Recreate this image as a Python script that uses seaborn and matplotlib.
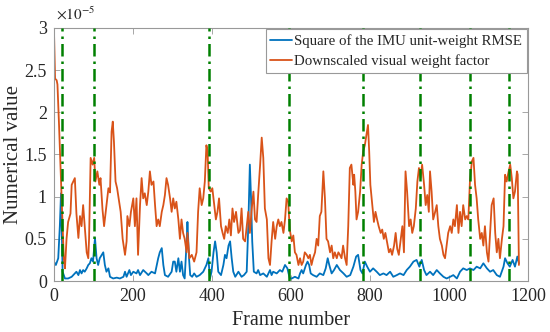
import numpy as np
import pandas as pd
import matplotlib
matplotlib.use("Agg")
import matplotlib.pyplot as plt
from matplotlib.ticker import FuncFormatter
import seaborn as sns

# values, in units of 1e-5
orange_frames = [0, 3, 7, 9, 13, 19, 25, 28, 32, 36, 42, 45, 49, 53, 57, 62, 66, 70, 74, 78,
                 83, 87, 89, 93, 98, 102, 105, 110, 115, 118, 123, 127, 132, 138, 142, 146, 149, 152, 156, 160,
                 165, 169, 174, 180, 184, 186, 191, 195, 201, 205, 209, 213, 218, 222, 226, 230, 235, 239, 243, 247,
                 252, 256, 260, 264, 268, 273, 277, 281, 285, 289, 294, 298, 302, 306, 310, 315, 319, 323, 327, 331,
                 336, 338, 343, 349, 355, 361, 365, 369, 374, 378, 382, 386, 389, 392, 397, 401, 406, 410, 414, 418,
                 423, 427, 431, 435, 440, 444, 448, 452, 456, 461, 467, 471, 475, 479, 484, 488, 492, 496, 500, 505,
                 509, 513, 517, 522, 526, 530, 534, 539, 543, 547, 551, 555, 560, 564, 568, 572, 576, 581, 585, 589,
                 593, 597, 602, 606, 610, 614, 619, 623, 627, 631, 635, 640, 644, 648, 652, 656, 661, 665, 669, 673,
                 677, 682, 686, 690, 694, 699, 703, 707, 711, 716, 720, 724, 728, 732, 737, 741, 745, 749, 753, 758,
                 760, 763, 766, 770, 775, 779, 783, 787, 791, 795, 798, 801, 806, 810, 814, 818, 822, 827, 831, 835,
                 839, 843, 848, 852, 856, 861, 865, 869, 873, 878, 882, 886, 890, 894, 899, 903, 907, 911, 916, 920,
                 924, 928, 932, 937, 941, 945, 949, 952, 956, 960, 965, 969, 973, 977, 982, 986, 990, 994, 998, 1003,
                 1007, 1011, 1015, 1020, 1024, 1028, 1032, 1036, 1041, 1045, 1049, 1053, 1058, 1062, 1066, 1070, 1074, 1079, 1083, 1087,
                 1091, 1096, 1100, 1104, 1108, 1113, 1117, 1121, 1125, 1129, 1134, 1138, 1142, 1146, 1151, 1155, 1159, 1163, 1167, 1172,
                 1174, 1177]
orange_vals = [3.0, 2.40, 2.38, 2.33, 1.85, 1.05, 0.27, 0.15, 0.50, 0.70, 0.80, 1.14, 1.18, 1.22, 0.80, 0.51, 0.77, 0.65, 0.90, 0.65,
               0.34, 0.27, 0.50, 1.46, 1.38, 1.46, 1.18, 1.30, 1.14, 1.22, 0.85, 0.65, 0.85, 1.10, 1.05, 1.77, 1.89, 1.65, 1.18, 1.10,
               0.94, 0.82, 0.50, 0.31, 0.47, 0.77, 0.65, 0.82, 0.98, 0.65, 0.98, 0.31, 0.90, 1.22, 0.98, 1.04, 0.90, 1.06, 1.30, 1.14,
               1.18, 0.90, 0.65, 0.73, 0.65, 0.82, 0.90, 1.02, 1.22, 1.14, 0.98, 0.82, 0.98, 0.86, 0.94, 0.73, 0.50, 0.73, 0.57, 0.50,
               0.34, 0.57, 0.27, 0.31, 0.23, 0.34, 0.82, 1.10, 0.90, 0.98, 1.18, 1.61, 1.54, 1.10, 1.06, 1.10, 0.90, 0.73, 0.82, 0.98,
               0.65, 0.57, 0.50, 0.65, 0.57, 0.73, 0.54, 0.86, 0.70, 0.82, 0.57, 0.60, 0.86, 0.50, 0.47, 0.65, 0.82, 0.57, 0.82, 1.06,
               0.73, 0.70, 1.02, 1.38, 1.70, 1.46, 0.86, 0.73, 0.27, 0.19, 0.47, 0.70, 0.50, 0.65, 0.73, 0.65, 0.70, 0.57, 0.73, 0.98,
               0.94, 0.61, 0.47, 0.54, 0.34, 0.31, 0.19, 0.27, 0.19, 0.23, 0.34, 0.31, 0.27, 0.31, 0.19, 0.27, 0.34, 0.50, 0.42, 0.77,
               0.82, 1.30, 0.98, 0.50, 0.47, 0.34, 0.42, 0.27, 0.34, 0.27, 0.34, 0.31, 0.27, 0.42, 0.27, 0.19, 0.65, 1.34, 1.38, 1.14,
               1.26, 1.06, 0.73, 0.82, 1.06, 1.38, 1.54, 1.61, 1.73, 1.85, 1.54, 1.14, 0.90, 0.70, 0.82, 0.73, 0.65, 0.57, 0.61, 0.50,
               0.57, 0.47, 0.34, 0.38, 0.31, 0.42, 0.57, 0.38, 0.31, 0.50, 0.65, 0.34, 1.30, 1.06, 0.65, 0.73, 0.57, 0.65, 0.86, 1.18,
               1.34, 1.22, 1.38, 1.14, 0.90, 1.02, 0.82, 1.30, 1.06, 0.73, 0.82, 0.90, 0.65, 0.50, 0.42, 0.31, 0.27, 0.42, 0.57, 0.65,
               0.57, 0.73, 0.65, 0.90, 0.57, 0.82, 0.65, 0.90, 0.73, 0.77, 0.73, 1.18, 1.42, 1.46, 1.14, 0.98, 0.73, 0.50, 0.57, 0.42,
               0.65, 0.34, 0.23, 0.57, 0.90, 0.98, 0.57, 0.34, 0.50, 0.27, 0.50, 0.65, 1.26, 1.18, 1.30, 1.38, 1.22, 0.98, 1.06, 1.30,
               1.26, 0.19]

blue_frames = [0, 5, 11, 15, 18, 20, 22, 28, 36, 45, 53, 57, 62, 66, 70, 74, 78, 83, 87, 91,
               95, 99, 104, 108, 112, 116, 121, 125, 129, 133, 138, 142, 150, 159, 167, 176, 180, 184, 191, 195,
               201, 209, 213, 218, 226, 235, 239, 247, 256, 264, 268, 273, 277, 281, 289, 298, 302, 306, 310, 315,
               319, 323, 327, 331, 336, 338, 342, 345, 350, 355, 361, 369, 378, 386, 391, 395, 399, 404, 408, 412,
               416, 423, 429, 433, 437, 442, 446, 450, 454, 459, 467, 475, 481, 488, 492, 496, 499, 502, 506, 513,
               517, 522, 530, 539, 547, 551, 555, 564, 572, 578, 585, 591, 597, 602, 610, 619, 623, 627, 631, 638,
               642, 646, 650, 656, 665, 673, 682, 688, 693, 697, 703, 709, 716, 724, 733, 741, 750, 758, 765, 770,
               776, 781, 787, 793, 800, 808, 817, 825, 834, 842, 851, 859, 868, 876, 885, 893, 901, 910, 918, 925,
               931, 937, 943, 952, 960, 969, 977, 986, 994, 1003, 1011, 1020, 1028, 1036, 1045, 1053, 1062, 1070, 1079, 1087,
               1096, 1104, 1112, 1121, 1129, 1138, 1142, 1148, 1154, 1161, 1167, 1173, 1177]
blue_vals = [0.23, 0.19, 0.27, 0.65, 1.04, 0.60, 0.11, 0.03, 0.03, 0.05, 0.09, 0.11, 0.07, 0.13, 0.09, 0.13, 0.11, 0.15, 0.19, 0.21,
             0.27, 0.23, 0.51, 0.27, 0.19, 0.27, 0.31, 0.34, 0.19, 0.11, 0.15, 0.05, 0.03, 0.04, 0.03, 0.05, 0.11, 0.05, 0.13, 0.07,
             0.11, 0.09, 0.13, 0.07, 0.13, 0.09, 0.07, 0.11, 0.09, 0.27, 0.34, 0.39, 0.19, 0.07, 0.05, 0.11, 0.23, 0.23, 0.11, 0.27,
             0.11, 0.23, 0.07, 0.03, 0.47, 0.70, 0.27, 0.07, 0.05, 0.09, 0.05, 0.07, 0.11, 0.19, 0.27, 0.03, 0.11, 0.34, 0.47, 0.34,
             0.11, 0.07, 0.19, 0.31, 0.27, 0.42, 0.47, 0.27, 0.11, 0.05, 0.11, 0.05, 0.07, 0.11, 0.65, 1.38, 0.98, 0.47, 0.11, 0.09,
             0.13, 0.07, 0.09, 0.05, 0.13, 0.07, 0.11, 0.09, 0.13, 0.11, 0.19, 0.15, 0.03, 0.03, 0.05, 0.03, 0.09, 0.13, 0.09, 0.19,
             0.23, 0.19, 0.09, 0.07, 0.05, 0.09, 0.07, 0.15, 0.27, 0.19, 0.09, 0.13, 0.19, 0.13, 0.09, 0.05, 0.07, 0.17, 0.29, 0.31,
             0.13, 0.09, 0.23, 0.17, 0.11, 0.15, 0.11, 0.07, 0.09, 0.07, 0.11, 0.05, 0.07, 0.09, 0.07, 0.13, 0.17, 0.23, 0.25, 0.17,
             0.25, 0.13, 0.07, 0.11, 0.07, 0.13, 0.09, 0.05, 0.03, 0.05, 0.07, 0.03, 0.11, 0.15, 0.13, 0.15, 0.13, 0.17, 0.15, 0.21,
             0.15, 0.11, 0.13, 0.07, 0.05, 0.17, 0.27, 0.21, 0.17, 0.25, 0.17, 0.29, 0.21]

switch_frames = [20, 101, 393, 595, 782, 926, 1054, 1151]

labels = ["Square of the IMU unit-weight RMSE", "Downscaled visual weight factor"]

sns.set_style("ticks")
plt.rcParams['font.family'] = ['Liberation Serif', 'DejaVu Serif']
plt.rcParams['mathtext.fontset'] = 'stix'

fig = plt.figure(figsize=(5.5, 3.32), dpi=100)
ax = fig.add_axes([0.098, 0.1536, 0.862, 0.7621])

scale = 1e-5
sns.lineplot(x=blue_frames, y=np.array(blue_vals) * scale, ax=ax, color='#0072BD', lw=1.3,
             label=labels[0])
sns.lineplot(x=orange_frames, y=np.array(orange_vals) * scale, ax=ax, color='#D95319', lw=1.3,
             label=labels[1])

for f in switch_frames:
    ax.axvline(f, color='#008000', lw=1.8, ls=(0, (5, 2, 1, 2)), zorder=3)

ax.set_xlim(0, 1200)
ax.set_ylim(0, 3e-5)
ax.set_xticks(range(0, 1201, 200))
ax.set_yticks(np.arange(0, 3.01, 0.5) * scale)
ax.yaxis.set_major_formatter(FuncFormatter(lambda v, p: f"{v / scale:g}"))
ax.text(0.005, 1.02, r"$\times10^{-5}$", transform=ax.transAxes, fontsize=11,
        ha='left', va='bottom', color='#262626')

ax.tick_params(direction='in', top=True, right=True, labelsize=13, length=4, width=0.6,
               colors='#999999', labelcolor='#262626', pad=5)
for s in ax.spines.values():
    s.set_color('#999999')
    s.set_linewidth(0.8)

ax.set_xlabel("Frame number", fontsize=14.5, labelpad=4, color='#262626')
ax.set_ylabel("Numerical value", fontsize=15, labelpad=1, color='#262626')

leg = ax.legend(loc='upper right', fontsize=10.7, frameon=True, fancybox=False, edgecolor='#999999',
                handlelength=1.45, handletextpad=0.15, borderpad=0.3, labelspacing=0.45,
                borderaxespad=0.1, framealpha=1)
leg.get_frame().set_linewidth(0.8)

fig.savefig("out.png", dpi=100)
